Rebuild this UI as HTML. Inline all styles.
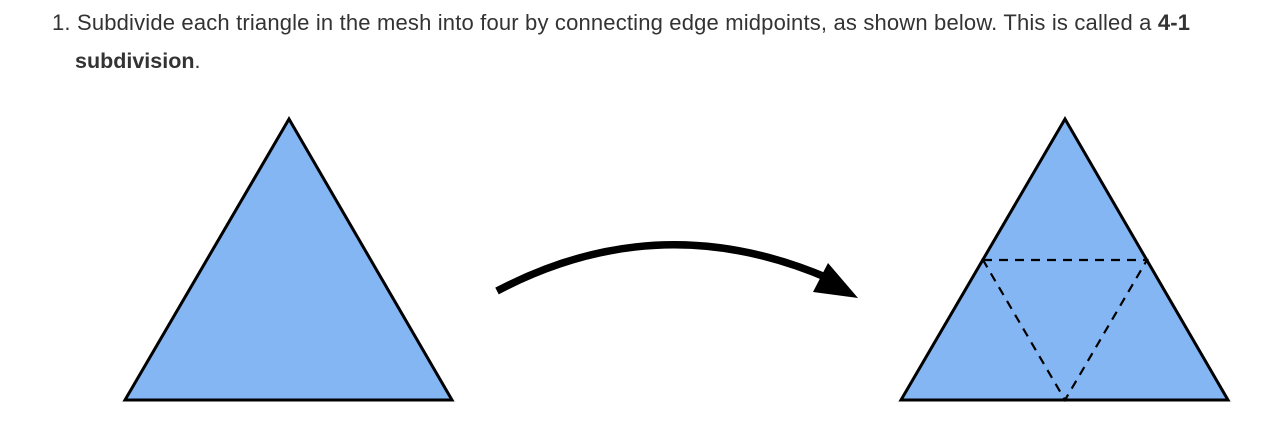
<!DOCTYPE html>
<html><head><meta charset="utf-8"><style>
body{margin:0;width:1280px;height:434px;background:#fff;overflow:hidden;position:relative;font-family:"Liberation Sans",Helvetica,Arial,sans-serif;color:#333;}
.t{position:absolute;font-size:22px;white-space:nowrap;}
</style></head><body>
<div class="t" style="left:52px;top:10px;letter-spacing:0.17px;">1. Subdivide each triangle in the mesh into four by connecting edge midpoints, as shown below. This is called a <b>4-1</b></div>
<div class="t" style="left:75px;top:49px;font-size:21.5px;"><b>subdivision</b>.</div>
<svg width="1280" height="434" style="position:absolute;left:0;top:0">
<polygon points="289,119 125,400 452,400" fill="#84b6f4" stroke="#000" stroke-width="3" stroke-linejoin="miter"/>
<polygon points="1065,119 901,400 1228,400" fill="#84b6f4" stroke="#000" stroke-width="3"/>
<polygon points="983,260 1147,260 1065,400" fill="none" stroke="#000" stroke-width="2.2" stroke-dasharray="9,7"/>
<path d="M497,291 Q660,205 830,279" fill="none" stroke="#000" stroke-width="7.5"/>
<polygon points="828,263 858,298 813,292" fill="#000"/>
</svg>
</body></html>
